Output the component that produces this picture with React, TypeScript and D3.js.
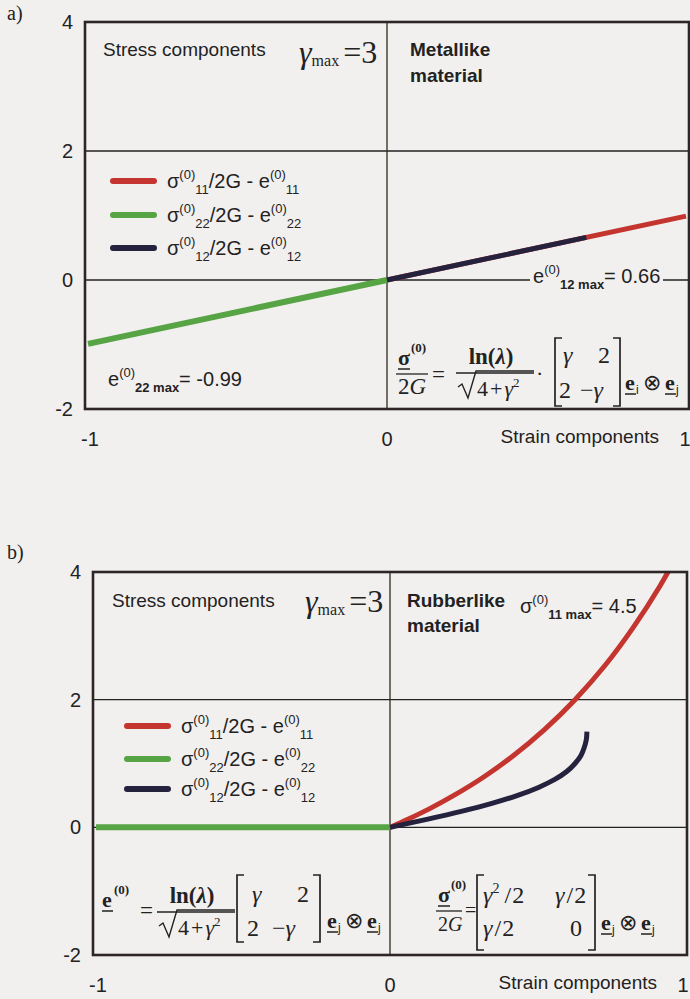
import React from "react";
import * as d3 from "d3";

// axis ticks
const xTicks = [-1, 0, 1];
const yTicks = [4, 2, 0, -2];
const yGrid = [2, 0];
const xGrid = [0];

// (a) metallike material: strain component vs stress component
const metalE11 = [0, 0.99];
const metalS11 = [0, 0.99];
const metalE22 = [-0.99, 0];
const metalS22 = [-0.99, 0];
const metalE12 = [0, 0.66];
const metalS12 = [0, 0.66];

// (b) rubberlike material
const rubberE11 = [0, 0.016, 0.06, 0.129, 0.215, 0.313, 0.416, 0.52, 0.623, 0.723, 0.818, 0.909, 0.994];
const rubberS11 = [0, 0.031, 0.125, 0.281, 0.5, 0.781, 1.125, 1.531, 2.0, 2.531, 3.125, 3.781, 4.5];
const rubberE22 = [-0.99, 0];
const rubberS22 = [0, 0];
const rubberE12 = [0, 0.124, 0.24, 0.343, 0.43, 0.5, 0.555, 0.595, 0.623, 0.643, 0.654, 0.661, 0.663];
const rubberS12 = [0, 0.125, 0.25, 0.375, 0.5, 0.625, 0.75, 0.875, 1.0, 1.125, 1.25, 1.375, 1.5];

const legendSubs = ["11", "22", "12"];

const RED = "#c4352f";
const GREEN = "#56a444";
const NAVY = "#25223e";
const INK = "#222";
const PAPER = "#f2f0ef";
const SANS = "'Liberation Sans', Arial, sans-serif";
const SERIF = "'Liberation Serif', 'Times New Roman', serif";

function LegendLabel({ x, y, sub }) {
  return (
    <text x={x} y={y} fontFamily={SANS} fontSize={20} fill={INK}>
      σ<tspan dy={-9} fontSize={13}>(0)</tspan>
      <tspan dy={15} fontSize={13}>{sub}</tspan>
      <tspan dy={-6} fontSize={20}>/2G - e</tspan>
      <tspan dy={-9} fontSize={13}>(0)</tspan>
      <tspan dy={15} fontSize={13}>{sub}</tspan>
    </text>
  );
}

function Panel({ id, box, series, legend }) {
  const x = d3.scaleLinear().domain([-1, 1]).range([box.left, box.right]);
  const y = d3.scaleLinear().domain([-2, 4]).range([box.bottom, box.top]);
  const line = d3
    .line()
    .x((d) => x(d[0]))
    .y((d) => y(d[1]))
    .curve(d3.curveCatmullRom.alpha(0.5));
  const colors = [RED, GREEN, NAVY];

  return (
    <g>
      <clipPath id={id}>
        <rect x={box.left} y={box.top} width={box.right - box.left} height={box.bottom - box.top} />
      </clipPath>
      {yGrid.map((v) => (
        <line key={v} x1={box.left} x2={box.right} y1={y(v)} y2={y(v)} stroke={INK} strokeWidth={1.4} />
      ))}
      {xGrid.map((v) => (
        <line key={v} x1={x(v)} x2={x(v)} y1={box.top} y2={box.bottom} stroke="#2c2a1c" strokeWidth={1.3} />
      ))}
      <g clipPath={`url(#${id})`}>
        {series.map((s, i) => (
          <path
            key={i}
            d={line(d3.zip(s[0], s[1]))}
            fill="none"
            stroke={colors[i]}
            strokeWidth={i === 1 ? 6 : 5}
          />
        ))}
      </g>
      <rect
        x={box.left}
        y={box.top}
        width={box.right - box.left}
        height={box.bottom - box.top}
        fill="none"
        stroke="#2e2626"
        strokeWidth={2.6}
      />
      {yTicks.map((v) => (
        <text
          key={v}
          x={box.left - 12}
          y={y(v)}
          textAnchor="end"
          dominantBaseline="central"
          fontFamily={SANS}
          fontSize={20}
          fill={INK}
        >
          {v}
        </text>
      ))}
      {xTicks.map((v, i) => (
        <text
          key={v}
          x={x(v) + [5, 0, -4][i]}
          y={box.bottom + 37}
          textAnchor="middle"
          fontFamily={SANS}
          fontSize={20}
          fill={INK}
        >
          {v}
        </text>
      ))}
      <text x={box.right - 30} y={box.bottom + 34} textAnchor="end" fontFamily={SANS} fontSize={19} fill={INK}>
        Strain components
      </text>
      {legendSubs.map((sub, i) => (
        <g key={sub}>
          <line
            x1={legend.x}
            x2={legend.x + 41}
            y1={legend.ys[i]}
            y2={legend.ys[i]}
            stroke={colors[i]}
            strokeWidth={6}
            strokeLinecap="round"
          />
          <LegendLabel x={legend.x + 54} y={legend.ys[i] + 7} sub={sub} />
        </g>
      ))}
    </g>
  );
}

function GammaMax({ x, y }) {
  return (
    <text x={x} y={y} fontFamily={SERIF} fontSize={32} fill={INK}>
      <tspan fontStyle="italic">γ</tspan>
      <tspan fontSize={16} dy={3}>max</tspan>
      <tspan dy={-3} dx={4}>=3</tspan>
    </text>
  );
}

function Bracket({ x, top, bottom, side }) {
  const d = side === "l" ? `M${x + 7},${top} H${x} V${bottom} H${x + 7}` : `M${x - 7},${top} H${x} V${bottom} H${x - 7}`;
  return <path d={d} fill="none" stroke={INK} strokeWidth={1.7} />;
}

function Radical({ x, y, w }) {
  return (
    <path
      d={`M${x},${y - 8} l4,-3 l6,14 l8,-27 H${x + w}`}
      fill="none"
      stroke={INK}
      strokeWidth={1.4}
    />
  );
}

function BoldVec({ x, y, ch, w }) {
  return (
    <g>
      <text x={x} y={y} fontFamily={SERIF} fontSize={22} fontWeight="bold" fill={INK}>
        {ch}
      </text>
      <line x1={x} x2={x + w} y1={y + 4} y2={y + 4} stroke={INK} strokeWidth={1.5} />
    </g>
  );
}

function ETensor({ x, y, a, b }) {
  return (
    <g fontFamily={SERIF} fill={INK}>
      <BoldVec x={x} y={y} ch="e" w={11} />
      <text x={x + 11} y={y + 4} fontFamily={SANS} fontSize={12}>{a}</text>
      <text x={x + 18} y={y} fontSize={22}>⊗</text>
      <BoldVec x={x + 40} y={y} ch="e" w={11} />
      <text x={x + 51} y={y + 4} fontFamily={SANS} fontSize={12}>{b}</text>
    </g>
  );
}

function SigmaOver2G({ x, y, w, size }) {
  return (
    <g fontFamily={SERIF} fill={INK}>
      <BoldVec x={x} y={y} ch="σ" w={12} />
      <text x={x + 13} y={y - 13} fontSize={13} fontWeight="bold">(0)</text>
      <line x1={x - 2} x2={x + w} y1={y + 9} y2={y + 9} stroke={INK} strokeWidth={1.3} />
      <text x={x} y={y + 29} fontSize={size}>
        2<tspan fontStyle="italic">G</tspan>
      </text>
    </g>
  );
}

function LnFraction({ cx, y, w }) {
  return (
    <g fontFamily={SERIF} fill={INK}>
      <text x={cx - 4} y={y} textAnchor="middle" fontSize={23} fontWeight="bold">
        ln(<tspan fontStyle="italic">λ</tspan>)
      </text>
      <line x1={cx - w / 2} x2={cx + w / 2} y1={y + 9} y2={y + 9} stroke={INK} strokeWidth={1.3} />
      <Radical x={cx - w / 2 + 2} y={y + 31} w={w - 2} />
      <text x={cx - w / 2 + 21} y={y + 32} fontSize={22}>
        4<tspan dx={2}>+</tspan>
        <tspan dx={2} fontStyle="italic">γ</tspan>
        <tspan dy={-9} fontSize={13}>2</tspan>
      </text>
    </g>
  );
}

export default function App() {
  const boxA = { left: 85, right: 689, top: 22, bottom: 409 };
  const boxB = { left: 93, right: 687, top: 572, bottom: 955 };

  return (
    <svg width={690} height={999} style={{ position: "absolute", left: 0, top: 0 }}>
      <rect width={690} height={999} fill={PAPER} />

      {/* ---------- a) ---------- */}
      <text x={7} y={20} fontFamily={SERIF} fontSize={20} fill={INK}>a)</text>
      <Panel
        id="clipA"
        box={boxA}
        series={[
          [metalE11, metalS11],
          [metalE22, metalS22],
          [metalE12, metalS12],
        ]}
        legend={{ x: 113, ys: [181, 215, 248] }}
      />
      <text x={103} y={56} fontFamily={SANS} fontSize={19} fill={INK}>Stress components</text>
      <GammaMax x={299} y={63} />
      <text fontFamily={SANS} fontSize={19} fontWeight="bold" fill={INK}>
        <tspan x={410} y={56}>Metallike</tspan>
        <tspan x={410} y={82}>material</tspan>
      </text>
      <rect x={530} y={262} width={133} height={30} fill={PAPER} />
      <text x={533} y={283} fontFamily={SANS} fontSize={20} fill={INK}>
        e<tspan dy={-9} fontSize={13}>(0)</tspan>
        <tspan dy={15} fontSize={13} fontWeight="bold">12 max</tspan>
        <tspan dy={-6}>= 0.66</tspan>
      </text>
      <text x={108} y={386} fontFamily={SANS} fontSize={20} fill={INK}>
        e<tspan dy={-9} fontSize={13}>(0)</tspan>
        <tspan dy={15} fontSize={13} fontWeight="bold">22 max</tspan>
        <tspan dy={-6}>= -0.99</tspan>
      </text>
      <SigmaOver2G x={398} y={365} w={30} size={23} />
      <text x={432} y={382} fontFamily={SERIF} fontSize={23} fill={INK}>=</text>
      <LnFraction cx={495} y={364} w={78} />
      <text x={536} y={381} fontFamily={SERIF} fontSize={22} fill={INK}>·</text>
      <Bracket x={555} top={338} bottom={406} side="l" />
      <Bracket x={620} top={338} bottom={406} side="r" />
      <g fontFamily={SERIF} fontSize={24} fill={INK}>
        <text x={563} y={363} fontStyle="italic">γ</text>
        <text x={598} y={363}>2</text>
        <text x={559} y={398}>2</text>
        <text x={580} y={398}>−<tspan fontStyle="italic">γ</tspan></text>
      </g>
      <ETensor x={625} y={390} a="i" b="j" />

      {/* ---------- b) ---------- */}
      <text x={7} y={559} fontFamily={SERIF} fontSize={20} fill={INK}>b)</text>
      <Panel
        id="clipB"
        box={boxB}
        series={[
          [rubberE11, rubberS11],
          [rubberE22, rubberS22],
          [rubberE12, rubberS12],
        ]}
        legend={{ x: 127, ys: [726, 759, 789] }}
      />
      <text x={112} y={607} fontFamily={SANS} fontSize={19} fill={INK}>Stress components</text>
      <GammaMax x={305} y={612} />
      <text fontFamily={SANS} fontSize={19} fontWeight="bold" fill={INK}>
        <tspan x={407} y={607}>Rubberlike</tspan>
        <tspan x={407} y={632}>material</tspan>
      </text>
      <text x={520} y={613} fontFamily={SANS} fontSize={20} fill={INK}>
        σ<tspan dy={-9} fontSize={13}>(0)</tspan>
        <tspan dy={15} fontSize={13} fontWeight="bold">11 max</tspan>
        <tspan dy={-6}>= 4.5</tspan>
      </text>

      <BoldVec x={102} y={907} ch="e" w={11} />
      <text x={114} y={894} fontFamily={SERIF} fontSize={13} fontWeight="bold" fill={INK}>(0)</text>
      <text x={140} y={918} fontFamily={SERIF} fontSize={23} fill={INK}>=</text>
      <LnFraction cx={196} y={903} w={78} />
      <Bracket x={237} top={875} bottom={942} side="l" />
      <Bracket x={320} top={875} bottom={942} side="r" />
      <g fontFamily={SERIF} fontSize={24} fill={INK}>
        <text x={252} y={902} fontStyle="italic">γ</text>
        <text x={297} y={902}>2</text>
        <text x={247} y={936}>2</text>
        <text x={272} y={936}>−<tspan fontStyle="italic">γ</tspan></text>
      </g>
      <ETensor x={327} y={928} a="j" b="j" />

      <SigmaOver2G x={438} y={902} w={24} size={20} />
      <text x={465} y={917} fontFamily={SERIF} fontSize={20} fill={INK}>=</text>
      <Bracket x={477} top={875} bottom={950} side="l" />
      <Bracket x={595} top={875} bottom={950} side="r" />
      <g fontFamily={SERIF} fontSize={24} fill={INK}>
        <text x={483} y={903}>
          <tspan fontStyle="italic">γ</tspan>
          <tspan dy={-10} fontSize={14}>2</tspan>
          <tspan dy={10} dx={5}>/</tspan>
          <tspan dx={1}>2</tspan>
        </text>
        <text x={555} y={903}>
          <tspan fontStyle="italic">γ</tspan>
          <tspan dx={2}>/</tspan>
          <tspan dx={1}>2</tspan>
        </text>
        <text x={483} y={936}>
          <tspan fontStyle="italic">γ</tspan>
          <tspan dx={2}>/</tspan>
          <tspan dx={1}>2</tspan>
        </text>
        <text x={570} y={936}>0</text>
      </g>
      <ETensor x={601} y={930} a="j" b="j" />
    </svg>
  );
}
